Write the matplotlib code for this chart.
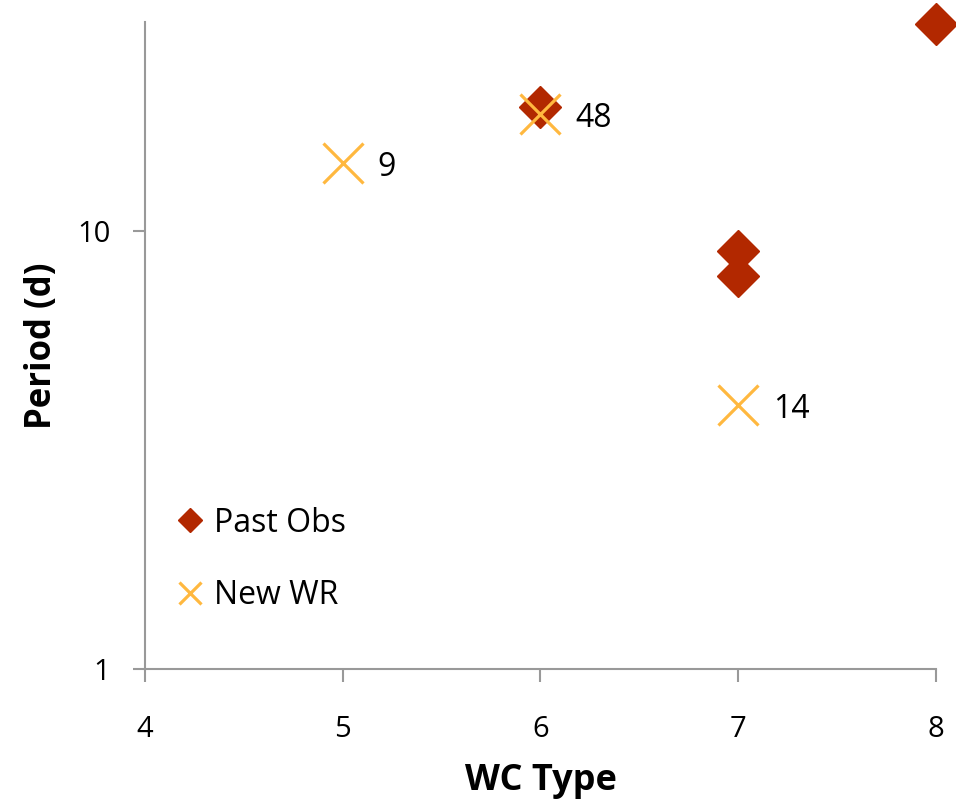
import matplotlib.pyplot as plt
from matplotlib.ticker import NullLocator, FixedLocator

plt.rcParams['font.family'] = ['Open Sans', 'DejaVu Sans']

# 데이터
past_type = [8, 6, 7, 7]
past_period = [29.7, 19.2, 9.0, 7.9]

new_type = [5, 6, 7]
new_period = [14.3, 18.5, 4.0]
new_labels = ["9", "48", "14"]

red = "#B22800"
orange = "#FFB83F"
gray = "#999999"

fig = plt.figure(figsize=(9.56, 7.99), dpi=100)
ax = fig.add_axes([0.1517, 0.1627, 0.8273, 0.8098])

ax.plot(past_type, past_period, linestyle="none", marker="D", markersize=21.5,
        color=red, label="Past Obs", zorder=2, clip_on=False)
ax.plot(new_type, new_period, linestyle="none", marker="x", markersize=29,
        markeredgewidth=2.3, color=orange, label="New WR", zorder=3, clip_on=False)

for x, y, t in zip(new_type, new_period, new_labels):
    ax.annotate(t, (x, y), xytext=(25, -3), textcoords="offset points",
                fontsize=23, va="center", ha="left")

ax.set_yscale("log")
ax.set_xlim(4, 8)
ax.set_ylim(1, 30)
ax.yaxis.set_major_locator(FixedLocator([1, 10]))
ax.yaxis.set_minor_locator(NullLocator())
ax.set_yticklabels(["1", "10"])
ax.set_xticks([4, 5, 6, 7, 8])

for s in ["top", "right"]:
    ax.spines[s].set_visible(False)
for s in ["left", "bottom"]:
    ax.spines[s].set_color(gray)
    ax.spines[s].set_linewidth(1.5)

ax.tick_params(axis="both", colors=gray, labelcolor="black", width=1.5,
               length=9, labelsize=21, direction="out")
ax.tick_params(axis="x", pad=24)
ax.tick_params(axis="y", pad=16)

ax.set_xlabel("WC Type", fontsize=26, fontweight="bold", labelpad=14)
ax.set_ylabel("Period (d)", fontsize=25, fontweight="bold", labelpad=12)

ax.legend(loc="upper left", bbox_to_anchor=(0.169, 0.386),
          bbox_transform=fig.transFigure, frameon=False, fontsize=23,
          markerscale=0.55, handlelength=0.8, handletextpad=0.35,
          labelspacing=1.25, borderpad=0)

plt.savefig("out.png", dpi=100)
